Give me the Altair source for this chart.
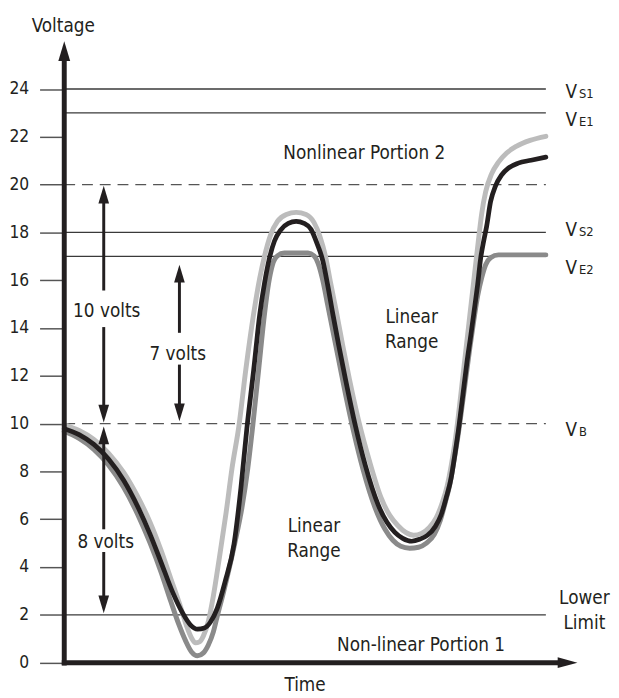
import altair as alt
import pandas as pd

# ---------------- data (time in arbitrary units, voltage in volts) ----------------
black_t = [0, 15, 30, 45, 60, 75, 87, 98, 110, 120, 128, 135, 142, 148, 155, 163, 172, 179, 185, 192,
           198, 203, 208, 213, 219, 227, 235, 243, 250, 256, 262, 267, 272, 278, 285, 295, 305, 318, 327, 335,
           343, 352, 360, 368, 376, 382, 387, 392, 396, 400, 404, 408, 412, 415, 419, 422, 425, 428, 432, 437,
           443, 450, 460, 473, 488]
black_v = [9.79, 9.54, 9.13, 8.51, 7.64, 6.48, 5.37, 4.21, 2.93, 2.07, 1.57, 1.40, 1.45, 1.69, 2.27, 3.39, 4.96, 7.31, 9.79, 12.27,
           14.54, 15.90, 16.94, 17.64, 18.09, 18.38, 18.46, 18.38, 18.13, 17.55, 16.81, 15.78, 14.62, 13.30, 11.85, 9.91, 8.26, 6.61, 5.87, 5.45,
           5.20, 5.08, 5.16, 5.33, 5.70, 6.20, 6.90, 7.72, 8.76, 9.91, 11.23, 12.56, 13.71, 14.62, 15.86, 16.94, 17.64, 18.26, 19.29, 19.95,
           20.40, 20.69, 20.90, 21.02, 21.15]

light_t = [0, 15, 30, 45, 60, 75, 87, 98, 108, 117, 124, 129, 133, 137, 141, 146, 151, 157, 164, 170,
           177, 184, 192, 198, 203, 209, 216, 225, 235, 245, 253, 259, 265, 270, 276, 282, 289, 299, 309, 321,
           330, 338, 346, 354, 362, 370, 377, 383, 388, 392, 396, 399, 403, 407, 411, 415, 419, 423, 427, 433,
           440, 448, 458, 472, 488]
light_v = [9.95, 9.71, 9.34, 8.76, 7.97, 6.90, 5.87, 4.71, 3.51, 2.44, 1.53, 1.03, 0.83, 0.87, 1.12, 1.73, 2.77, 4.34, 6.28, 8.14,
           9.91, 12.27, 14.62, 16.07, 17.02, 17.89, 18.46, 18.75, 18.84, 18.75, 18.42, 17.84, 16.94, 15.86, 14.62, 13.30, 11.85, 10.00, 8.47, 6.90,
           6.15, 5.74, 5.45, 5.33, 5.41, 5.66, 6.07, 6.69, 7.39, 8.22, 9.25, 10.20, 11.65, 13.09, 14.54, 15.99, 17.43, 18.79, 19.70, 20.45,
           20.94, 21.31, 21.60, 21.85, 22.02]

mid_t = [0, 15, 30, 45, 60, 75, 87, 98, 108, 116, 123, 129, 135, 141, 146, 151, 155, 161, 167, 173,
         180, 186, 191, 197, 203, 207, 211, 216, 223, 235, 247, 253, 257, 262, 267, 272, 278, 285, 293, 303,
         315, 325, 333, 341, 350, 359, 367, 375, 381, 386, 391, 395, 399, 403, 407, 411, 415, 419, 423, 427,
         432, 440, 455, 488]
mid_v = [9.67, 9.38, 8.92, 8.26, 7.35, 6.15, 5.00, 3.80, 2.56, 1.61, 0.91, 0.45, 0.29, 0.41, 0.74, 1.28, 1.94, 2.89, 3.92, 5.04,
         6.48, 8.14, 9.91, 12.27, 14.62, 15.86, 16.65, 17.02, 17.14, 17.14, 17.14, 17.02, 16.73, 15.99, 14.95, 13.92, 12.68, 11.23, 9.71, 8.05,
         6.48, 5.58, 5.12, 4.87, 4.79, 4.83, 5.00, 5.37, 5.95, 6.69, 7.52, 8.47, 9.50, 10.70, 11.94, 13.18, 14.33, 15.37, 16.11, 16.65,
         16.94, 17.06, 17.06, 17.06]

y_ticks = [0, 2, 4, 6, 8, 10, 12, 14, 16, 18, 20, 22, 24]
solid_levels = [24, 23, 18, 17, 2]
dashed_levels = [20, 10]
line_end = 488

level_names = ["S1", "E1", "S2", "E2", "B"]
level_label_v = [23.63, 22.47, 17.84, 16.27, 9.50]

label_text = ["Voltage", "Time", "Nonlinear Portion 2", "Linear", "Range", "Linear", "Range",
              "Non-linear Portion 1", "Lower", "Limit", "10 volts", "7 volts", "8 volts"]
label_t = [-1, 244, 304, 352, 352, 253, 253, 361.5, 527, 527, 43, 115, 42]
label_v = [26.39, -1.2, 21.07, 14.19, 13.16, 5.45, 4.42, 0.50, 2.44, 1.40, 14.47, 12.68, 4.79]

# dimension arrows: x position, shaft pieces, tips
shaft_t = [40, 40, 116.7, 116.7, 40, 40]
shaft_v1 = [19.3, 14.04, 16.0, 12.47, 9.3, 4.63]
shaft_v2 = [15.57, 10.6, 13.8, 10.8, 5.58, 2.7]
tip_up_t = [40, 116.7, 40]
tip_up_v = [19.95, 16.65, 9.88]
tip_down_t = [40, 116.7, 40]
tip_down_v = [10.05, 10.1, 2.07]

# ---------------- styling ----------------
FONT = "DejaVu Sans Condensed, Liberation Sans Narrow, sans-serif"
FS = 19
INK = "#231f20"
X = alt.Scale(domain=[0, 546], nice=False, zero=False)
Y = alt.Scale(domain=[-1, 27.2], nice=False, zero=False)

UP = "M0,0L0.3,1L-0.3,1Z"
DOWN = "M0,0L0.3,-1L-0.3,-1Z"
RIGHT = "M0,0L-1,0.27L-1,-0.27Z"

yaxis = alt.Axis(values=y_ticks, tickSize=25, labelPadding=11, domain=False, grid=False, title=None,
                 labelFont=FONT, labelFontSize=17.5, labelColor=INK, tickColor="#555", tickWidth=1.5,
                 labelOverlap=False, labelFlush=False)


def xq(f):
    return alt.X(f, type="quantitative", scale=X, axis=None)


def yq(f):
    return alt.Y(f, type="quantitative", scale=Y, axis=yaxis)


solid_df = pd.DataFrame({"v": solid_levels, "t1": 0, "t2": line_end})
dashed_df = pd.DataFrame({"v": dashed_levels, "t1": 0, "t2": line_end})

solid = alt.Chart(solid_df).mark_rule(color="#3a3a3a", strokeWidth=1.3).encode(
    x=xq("t1"), x2="t2", y=yq("v"))
dashed = alt.Chart(dashed_df).mark_rule(color="#555", strokeWidth=1.3, strokeDash=[11, 7]).encode(
    x=xq("t1"), x2="t2", y=yq("v"))


def curve(t, v, color, w):
    return alt.Chart(pd.DataFrame({"t": t, "v": v})).mark_line(
        color=color, strokeWidth=w, interpolate="monotone", strokeCap="round", strokeJoin="round"
    ).encode(x=xq("t"), y=yq("v"))


light = curve(light_t, light_v, "#bcbcbc", 5)
mid = curve(mid_t, mid_v, "#8a8a8a", 5)
black = curve(black_t, black_v, INK, 4.8)

shafts = alt.Chart(pd.DataFrame({"t": shaft_t, "v1": shaft_v1, "v2": shaft_v2})).mark_rule(
    color=INK, strokeWidth=3).encode(x=xq("t"), y=yq("v1"), y2="v2")
heads_up = alt.Chart(pd.DataFrame({"t": tip_up_t, "v": tip_up_v})).mark_point(
    shape=UP, filled=True, color=INK, opacity=1, size=1296).encode(x=xq("t"), y=yq("v"))
heads_down = alt.Chart(pd.DataFrame({"t": tip_down_t, "v": tip_down_v})).mark_point(
    shape=DOWN, filled=True, color=INK, opacity=1, size=1296).encode(x=xq("t"), y=yq("v"))

# main axes drawn as arrows
vaxis = alt.Chart(pd.DataFrame({"t": [0], "v1": [-0.12], "v2": [25.3]})).mark_rule(
    color=INK, strokeWidth=5).encode(x=xq("t"), y=yq("v1"), y2="v2")
haxis = alt.Chart(pd.DataFrame({"t1": [-2.5], "t2": [505], "v": [0]})).mark_rule(
    color=INK, strokeWidth=5).encode(x=xq("t1"), x2="t2", y=yq("v"))
vhead = alt.Chart(pd.DataFrame({"t": [0], "v": [26.0]})).mark_point(
    shape=UP, filled=True, color=INK, opacity=1, size=1600).encode(x=xq("t"), y=yq("v"))
hhead = alt.Chart(pd.DataFrame({"t": [520], "v": [0]})).mark_point(
    shape=RIGHT, filled=True, color=INK, opacity=1, size=1600).encode(x=xq("t"), y=yq("v"))

labels = alt.Chart(pd.DataFrame({"t": label_t, "v": label_v, "txt": label_text})).mark_text(
    font=FONT, fontSize=FS, color=INK, align="center", baseline="alphabetic").encode(
    x=xq("t"), y=yq("v"), text="txt:N")

vlab = alt.Chart(pd.DataFrame({"v": level_label_v, "t": 508, "txt": "V"})).mark_text(
    font=FONT, fontSize=FS, color=INK, align="left", baseline="alphabetic").encode(
    x=xq("t"), y=yq("v"), text="txt:N")
vsub = alt.Chart(pd.DataFrame({"v": level_label_v, "t": 521.5, "txt": level_names})).mark_text(
    font=FONT, fontSize=13, color=INK, align="left", baseline="alphabetic").encode(
    x=xq("t"), y=yq("v"), text="txt:N")

chart = alt.layer(
    solid, dashed, light, mid, black, shafts, heads_up, heads_down,
    vaxis, haxis, vhead, hhead, labels, vlab, vsub
).properties(
    width=546, height=683,
    autosize=alt.AutoSizeParams(type="none"),
    padding={"left": 57, "top": 0, "right": 8, "bottom": 7},
    background="white",
).configure_view(stroke=None)

chart.save("out.html", embed_options={"renderer": "svg", "actions": False})
